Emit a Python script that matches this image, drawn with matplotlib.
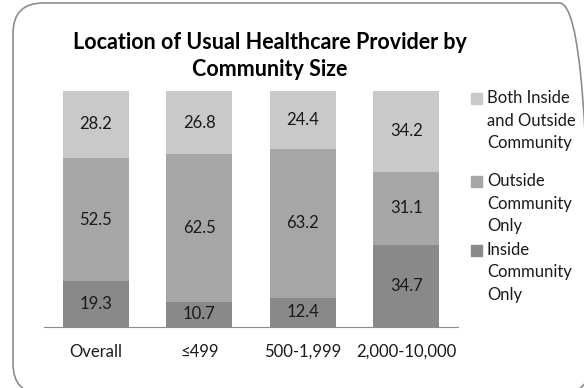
import numpy as np
import matplotlib.pyplot as plt
from matplotlib.patches import FancyBboxPatch, Rectangle

categories = ['Overall', '\u2264499', '500-1,999', '2,000-10,000']
inside = [19.3, 10.7, 12.4, 34.7]
outside = [52.5, 62.5, 63.2, 31.1]
both = [28.2, 26.8, 24.4, 34.2]
series_labels = ['Both Inside\nand Outside\nCommunity', 'Outside\nCommunity\nOnly', 'Inside\nCommunity\nOnly']

colors = ['#898989', '#a6a6a6', '#c9c9c9']

plt.rcParams['font.family'] = ['Lato', 'DejaVu Sans']

fig = plt.figure(figsize=(5.84, 3.88), dpi=100)
ax = fig.add_axes([44/584, 1 - 327/388, 414/584, 236/388])

x = np.arange(len(categories))
w = 0.64
bottom = np.zeros(len(categories))
for vals, c in zip([inside, outside, both], colors):
    ax.bar(x, vals, w, bottom=bottom, color=c, edgecolor='none')
    for xi, b, v in zip(x, bottom, vals):
        ax.text(xi, b + v / 2, '%.1f' % v, ha='center', va='center', fontsize=12, color='#1a1a1a')
    bottom = bottom + np.array(vals)

ax.set_xlim(-0.5, 3.5)
ax.set_ylim(0, 100)
ax.set_xticks(x)
ax.set_xticklabels(categories, fontsize=12, color='#1a1a1a')
ax.tick_params(axis='x', length=0, pad=12)
ax.set_yticks([])
for s in ['left', 'right', 'top']:
    ax.spines[s].set_visible(False)
ax.spines['bottom'].set_color('#8c8c8c')

fig.text(270/584, 1 - 56/388, 'Location of Usual Healthcare Provider by\nCommunity Size',
         ha='center', va='center', fontsize=15.5, fontweight='bold', linespacing=1.3)

# legend, drawn by hand so the marker sits on the first line
leg_colors = colors[::-1]
leg_tops = [99, 182, 251]
for lab, c, yt in zip(series_labels, leg_colors, leg_tops):
    fig.patches.append(Rectangle((471/584, 1 - (yt + 5)/388), 11/584, 11/388,
                                 transform=fig.transFigure, color=c))
    fig.text(487/584, 1 - (yt - 9)/388, lab, ha='left', va='top', fontsize=12,
             linespacing=1.5, color='#1a1a1a')

border = FancyBboxPatch((13/584, 1 - 394/388), 577/584, 391/388,
                        boxstyle='round,pad=0,rounding_size=0.052', transform=fig.transFigure,
                        facecolor='none', edgecolor='#8c8c8c', linewidth=1.2,
                        mutation_aspect=584/388)
fig.patches.append(border)

fig.savefig('out.png', dpi=100)
